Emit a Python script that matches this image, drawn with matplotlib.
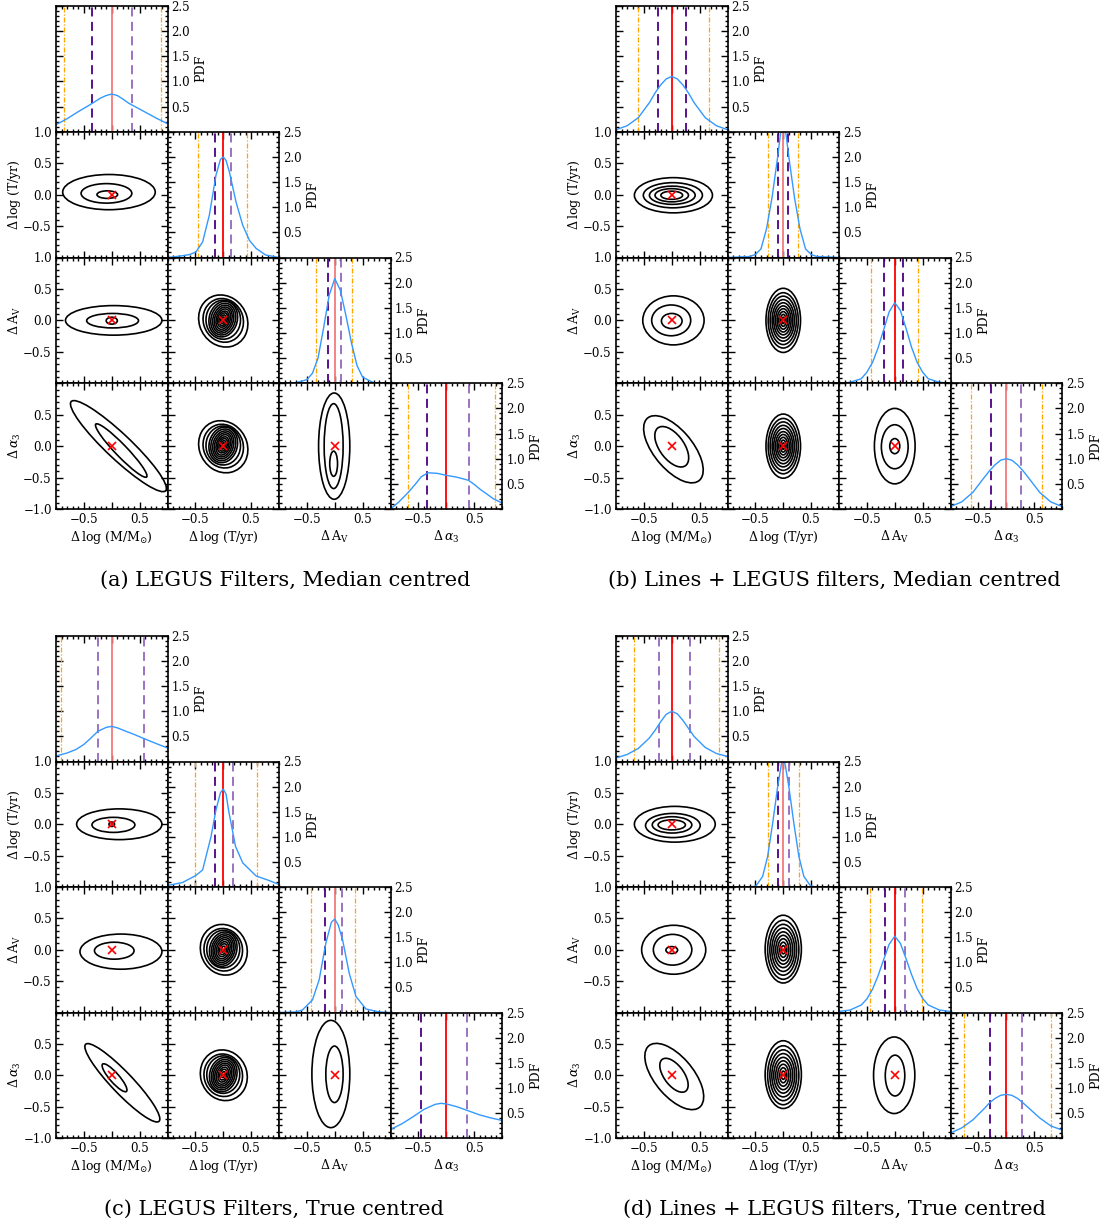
import matplotlib
matplotlib.use('Agg')
import matplotlib.pyplot as plt
from matplotlib.patches import Ellipse
from matplotlib.ticker import MultipleLocator, FixedLocator

plt.rcParams['font.family'] = ['DejaVu Serif']
plt.rcParams['mathtext.fontset'] = 'dejavuserif'

# ---------------- text ----------------
PARAM_LABELS = [r'$\Delta\,\log\,(\mathrm{M/M_{\odot}})$', r'$\Delta\,\log\,(\mathrm{T/yr})$',
                r'$\Delta\,\mathrm{A_V}$', r'$\Delta\,\alpha_3$']
CAPTIONS = ['(a) LEGUS Filters, Median centred',
            '(b) Lines + LEGUS filters, Median centred',
            '(c) LEGUS Filters, True centred',
            '(d) Lines + LEGUS filters, True centred']
PDF_YTICKS = [0.5, 1.0, 1.5, 2.0, 2.5]
XTICKS = [-0.5, 0.0, 0.5]
XTICKLABELS = ['\u22120.5', '', '0.5']
YTICKS_2D = [-1.0, -0.5, 0.0, 0.5, 1.0]
YTICKLABELS_MID = ['', '\u22120.5', '0.0', '0.5', '1.0']
YTICKLABELS_BOT = ['\u22121.0', '\u22120.5', '0.0', '0.5', '']
MARKER_XY = (0.0, 0.0)

# ---------------- (a) LEGUS filters, median centred ----------------
a_pdf_mass_x = [-1.0, -0.8, -0.6, -0.4, -0.3, -0.2, -0.1, 0.0, 0.1, 0.2, 0.3, 0.4, 0.6, 0.8, 1.0]
a_pdf_mass_y = [0.14, 0.26, 0.40, 0.53, 0.60, 0.67, 0.72, 0.75, 0.72, 0.65, 0.57, 0.51, 0.39, 0.27, 0.16]
a_pdf_age_x = [-1.0, -0.76, -0.6, -0.49, -0.37, -0.25, -0.13, -0.05, 0.0, 0.05, 0.11, 0.23, 0.35, 0.47, 0.59, 0.76, 1.0]
a_pdf_age_y = [0.0, 0.03, 0.06, 0.11, 0.31, 0.84, 1.64, 1.95, 2.0, 1.93, 1.70, 1.10, 0.64, 0.34, 0.18, 0.05, 0.0]
a_pdf_av_x = [-1.0, -0.7, -0.5, -0.4, -0.3, -0.2, -0.1, 0.0, 0.1, 0.2, 0.3, 0.4, 0.5, 0.7, 1.0]
a_pdf_av_y = [0.0, 0.01, 0.07, 0.20, 0.50, 1.10, 1.75, 2.08, 1.85, 1.35, 0.80, 0.35, 0.12, 0.01, 0.0]
a_pdf_a3_x = [-1.0, -0.85, -0.69, -0.55, -0.45, -0.33, -0.17, 0.0, 0.2, 0.4, 0.5, 0.61, 0.75, 0.85, 1.0]
a_pdf_a3_y = [0.0, 0.14, 0.32, 0.50, 0.64, 0.72, 0.71, 0.67, 0.63, 0.57, 0.49, 0.39, 0.28, 0.20, 0.12]
a_lines_mass = [-0.85, -0.35, 0.0, 0.37, 0.88]
a_lines_age = [-0.45, -0.14, 0.0, 0.14, 0.42]
a_lines_av = [-0.34, -0.13, 0.0, 0.12, 0.31]
a_lines_a3 = [-0.69, -0.34, 0.0, 0.40, 0.87]
# contours: (cx, cy, width, height, angle)
a_ell_age_mass = [(-0.05, 0.04, 1.66, 0.56, 0), (-0.095, 0.02, 0.91, 0.31, 0), (-0.08, 0.0, 0.37, 0.12, 0)]
a_ell_av_mass = [(0.035, 0.0, 1.73, 0.47, 0), (0.015, -0.005, 0.93, 0.23, 0), (0.0, -0.005, 0.20, 0.11, 0)]
a_ell_a3_mass = [(0.12, 0.0, 2.21, 0.42, -39.7), (0.17, -0.07, 1.24, 0.20, -42.5)]
a_ell_av_age = [(0.0, -0.01, 0.91, 0.80, -30), (0.0, 0.0, 0.74, 0.68, -30), (0.0, 0.01, 0.62, 0.62, -25),
                (0.0, 0.02, 0.50, 0.58, -25), (0.0, 0.02, 0.43, 0.52, -25), (0.0, 0.02, 0.36, 0.46, -25),
                (0.0, 0.02, 0.30, 0.40, -25), (0.0, 0.02, 0.24, 0.34, -25), (0.0, 0.02, 0.19, 0.27, -25),
                (0.0, 0.02, 0.14, 0.21, -25), (0.0, 0.02, 0.09, 0.14, -25), (0.0, 0.02, 0.04, 0.07, -25)]
a_ell_a3_age = a_ell_av_age
a_ell_a3_av = [(-0.01, 0.0, 0.56, 1.69, 0), (-0.02, 0.0, 0.34, 1.35, 0), (-0.02, -0.28, 0.14, 0.40, 0)]

# ---------------- (b) Lines + LEGUS, median centred ----------------
b_pdf_mass_x = [-1.0, -0.8, -0.6, -0.4, -0.3, -0.2, -0.1, 0.0, 0.1, 0.2, 0.3, 0.4, 0.6, 0.8, 1.0]
b_pdf_mass_y = [0.04, 0.12, 0.28, 0.58, 0.77, 0.93, 1.05, 1.10, 1.05, 0.93, 0.77, 0.58, 0.28, 0.12, 0.04]
b_pdf_age_x = [-1.0, -0.6, -0.5, -0.4, -0.3, -0.2, -0.1, -0.05, 0.0, 0.05, 0.1, 0.2, 0.3, 0.4, 0.5, 0.6, 1.0]
b_pdf_age_y = [0.0, 0.02, 0.06, 0.17, 0.57, 1.20, 2.0, 2.45, 2.65, 2.45, 2.0, 1.20, 0.57, 0.17, 0.06, 0.02, 0.0]
b_pdf_av_x = [-1.0, -0.8, -0.6, -0.5, -0.4, -0.3, -0.2, -0.1, 0.0, 0.1, 0.2, 0.3, 0.4, 0.5, 0.6, 0.8, 1.0]
b_pdf_av_y = [0.0, 0.02, 0.09, 0.22, 0.41, 0.70, 1.06, 1.42, 1.60, 1.45, 1.10, 0.72, 0.42, 0.22, 0.09, 0.02, 0.0]
b_pdf_a3_x = [-1.0, -0.8, -0.6, -0.4, -0.3, -0.2, -0.1, 0.0, 0.1, 0.2, 0.3, 0.4, 0.6, 0.8, 1.0]
b_pdf_a3_y = [0.05, 0.14, 0.33, 0.62, 0.76, 0.88, 0.97, 1.0, 0.97, 0.88, 0.76, 0.62, 0.33, 0.14, 0.05]
b_lines_mass = [-0.60, -0.24, 0.0, 0.25, 0.67]
b_lines_age = [-0.27, -0.10, 0.0, 0.09, 0.27]
b_lines_av = [-0.43, -0.19, 0.0, 0.15, 0.41]
b_lines_a3 = [-0.64, -0.27, 0.0, 0.27, 0.65]
b_ell_age_mass = [(0.03, -0.01, 1.40, 0.56, 0), (0.02, -0.01, 1.06, 0.40, 0), (0.01, -0.01, 0.82, 0.29, 0),
                  (0.0, -0.01, 0.60, 0.21, 0), (0.0, -0.01, 0.39, 0.13, 0)]
b_ell_av_mass = [(0.03, 0.0, 1.10, 0.78, 0), (-0.01, 0.0, 0.70, 0.49, 0), (0.0, -0.01, 0.37, 0.24, 0)]
b_ell_a3_mass = [(0.03, -0.05, 1.36, 0.66, -45), (0.0, -0.01, 0.78, 0.42, -48)]
b_ell_av_age = [(0.0, 0.0, 0.62, 1.02, 0), (0.0, 0.0, 0.54, 0.88, 0), (0.0, 0.0, 0.47, 0.77, 0),
                (0.0, 0.0, 0.40, 0.66, 0), (0.0, 0.0, 0.34, 0.56, 0), (0.0, 0.0, 0.28, 0.46, 0),
                (0.0, 0.0, 0.22, 0.37, 0), (0.0, 0.0, 0.16, 0.28, 0), (0.0, 0.0, 0.10, 0.19, 0),
                (0.0, 0.0, 0.05, 0.10, 0)]
b_ell_a3_age = b_ell_av_age
b_ell_a3_av = [(0.0, 0.0, 0.73, 1.20, 0), (0.0, -0.01, 0.48, 0.70, 0), (0.0, 0.0, 0.18, 0.24, 0)]

# ---------------- (c) LEGUS filters, true centred ----------------
c_pdf_mass_x = [-1.0, -0.8, -0.64, -0.5, -0.4, -0.25, -0.1, 0.0, 0.1, 0.26, 0.4, 0.57, 0.79, 1.0]
c_pdf_mass_y = [0.11, 0.17, 0.24, 0.34, 0.44, 0.60, 0.68, 0.70, 0.67, 0.60, 0.54, 0.46, 0.36, 0.27]
c_pdf_age_x = [-1.0, -0.73, -0.49, -0.37, -0.22, -0.13, -0.05, 0.0, 0.05, 0.1, 0.22, 0.35, 0.59, 0.82, 1.0]
c_pdf_age_y = [0.03, 0.09, 0.23, 0.34, 1.0, 1.54, 1.88, 1.95, 1.85, 1.50, 0.81, 0.48, 0.22, 0.13, 0.05]
c_pdf_av_x = [-1.0, -0.7, -0.58, -0.4, -0.28, -0.16, -0.06, 0.0, 0.06, 0.14, 0.26, 0.38, 0.56, 0.8, 1.0]
c_pdf_av_y = [0.0, 0.01, 0.05, 0.25, 0.65, 1.38, 1.80, 1.86, 1.75, 1.45, 0.78, 0.32, 0.07, 0.01, 0.0]
c_pdf_a3_x = [-1.0, -0.8, -0.6, -0.4, -0.2, -0.1, 0.0, 0.2, 0.4, 0.6, 0.8, 1.0]
c_pdf_a3_y = [0.17, 0.28, 0.42, 0.57, 0.67, 0.69, 0.68, 0.62, 0.54, 0.46, 0.40, 0.35]
c_lines_mass = [-0.91, -0.25, 0.0, 0.57, None]
c_lines_age = [-0.51, -0.14, 0.0, 0.17, 0.60]
c_lines_av = [-0.43, -0.18, 0.0, 0.13, 0.37]
c_lines_a3 = [None, -0.46, 0.0, 0.37, None]
c_ell_age_mass = [(0.135, 0.0, 1.53, 0.49, 0), (0.03, -0.01, 0.77, 0.24, 0), (0.0, 0.0, 0.10, 0.07, 0)]
c_ell_av_mass = [(0.165, -0.03, 1.47, 0.56, 0), (0.045, -0.015, 0.71, 0.27, 0)]
c_ell_a3_mass = [(0.19, -0.12, 1.80, 0.36, -42.7), (0.05, -0.04, 0.61, 0.16, -45)]
c_ell_av_age = [(0.01, 0.0, 0.86, 0.79, -30), (0.0, 0.0, 0.70, 0.67, -30), (0.0, 0.01, 0.59, 0.60, -25),
                (0.0, 0.01, 0.48, 0.56, -25), (0.0, 0.01, 0.41, 0.50, -25), (0.0, 0.01, 0.35, 0.44, -25),
                (0.0, 0.01, 0.29, 0.38, -25), (0.0, 0.01, 0.23, 0.32, -25), (0.0, 0.01, 0.17, 0.25, -25),
                (0.0, 0.01, 0.12, 0.18, -25), (0.0, 0.01, 0.06, 0.10, -25)]
c_ell_a3_age = c_ell_av_age
c_ell_a3_av = [(-0.07, 0.02, 0.68, 1.71, 0), (-0.005, 0.015, 0.31, 0.90, 0)]

# ---------------- (d) Lines + LEGUS, true centred ----------------
d_pdf_mass_x = [-1.0, -0.8, -0.6, -0.4, -0.3, -0.2, -0.1, 0.0, 0.1, 0.2, 0.3, 0.4, 0.6, 0.8, 1.0]
d_pdf_mass_y = [0.07, 0.14, 0.26, 0.47, 0.62, 0.79, 0.94, 1.0, 0.95, 0.82, 0.66, 0.50, 0.28, 0.16, 0.10]
d_pdf_age_x = [-1.0, -0.6, -0.49, -0.37, -0.28, -0.19, -0.10, -0.03, 0.0, 0.03, 0.10, 0.19, 0.28, 0.37, 0.49, 0.6, 1.0]
d_pdf_age_y = [0.0, 0.0, 0.02, 0.21, 0.61, 1.27, 2.0, 2.47, 2.55, 2.47, 2.0, 1.27, 0.61, 0.21, 0.02, 0.0, 0.0]
d_pdf_av_x = [-1.0, -0.8, -0.6, -0.5, -0.4, -0.3, -0.2, -0.1, 0.0, 0.1, 0.2, 0.3, 0.4, 0.5, 0.6, 0.8, 1.0]
d_pdf_av_y = [0.02, 0.05, 0.15, 0.27, 0.46, 0.73, 1.05, 1.36, 1.52, 1.38, 1.08, 0.76, 0.48, 0.28, 0.15, 0.05, 0.02]
d_pdf_a3_x = [-1.0, -0.8, -0.6, -0.4, -0.3, -0.2, -0.1, 0.0, 0.1, 0.2, 0.3, 0.4, 0.6, 0.8, 1.0]
d_pdf_a3_y = [0.10, 0.20, 0.36, 0.58, 0.70, 0.79, 0.85, 0.87, 0.85, 0.79, 0.70, 0.60, 0.40, 0.24, 0.16]
d_lines_mass = [-0.67, -0.23, 0.0, 0.33, 0.84]
d_lines_age = [-0.27, -0.10, 0.0, 0.11, 0.29]
d_lines_av = [-0.45, -0.17, 0.0, 0.19, 0.48]
d_lines_a3 = [-0.76, -0.30, 0.0, 0.29, 0.81]
d_ell_age_mass = [(0.055, 0.0, 1.45, 0.57, 0), (0.02, -0.02, 0.98, 0.385, 0), (0.005, -0.01, 0.71, 0.26, 0),
                  (0.0, -0.01, 0.49, 0.16, 0)]
d_ell_av_mass = [(0.035, 0.0, 1.15, 0.78, 0), (0.015, 0.0, 0.69, 0.49, 0), (0.0, -0.005, 0.21, 0.11, 0)]
d_ell_a3_mass = [(0.045, -0.02, 1.34, 0.66, -45), (0.04, 0.0, 0.66, 0.34, -48)]
d_ell_av_age = [(0.0, 0.01, 0.65, 1.08, 0), (0.0, 0.0, 0.56, 0.94, 0), (0.0, 0.0, 0.48, 0.81, 0),
                (0.0, 0.0, 0.41, 0.69, 0), (0.0, 0.0, 0.34, 0.57, 0), (0.0, 0.0, 0.27, 0.46, 0),
                (0.0, 0.0, 0.20, 0.35, 0), (0.0, 0.0, 0.13, 0.24, 0), (0.0, 0.0, 0.07, 0.13, 0)]
d_ell_a3_age = d_ell_av_age
d_ell_a3_av = [(-0.01, 0.0, 0.74, 1.22, 0), (0.005, -0.005, 0.35, 0.65, 0)]

# ---------------- styles ----------------
BLUE = '#3399ff'
ORANGE = '#ffa500'
INDIGO = '#4b0082'
MPURPLE = '#9467bd'
RED = '#ff0000'
SALMON = '#f27a7a'

FW, FH = 1106, 1225
PW = 111.5
ORIGINS = {'a': (56, 6, 125.75), 'b': (616, 6, 125.75), 'c': (56, 636, 125.5), 'd': (616, 636, 125.5)}
CAPTION_POS = {'a': (285, 580), 'b': (834, 580), 'c': (274, 1209), 'd': (834, 1209)}

CORNERS = {
    'a': dict(pdfs=[(a_pdf_mass_x, a_pdf_mass_y), (a_pdf_age_x, a_pdf_age_y), (a_pdf_av_x, a_pdf_av_y), (a_pdf_a3_x, a_pdf_a3_y)],
              lines=[a_lines_mass, a_lines_age, a_lines_av, a_lines_a3],
              colors=[(INDIGO, MPURPLE, SALMON), (INDIGO, MPURPLE, RED), (INDIGO, MPURPLE, SALMON), (INDIGO, MPURPLE, RED)],
              ells={(1, 0): a_ell_age_mass, (2, 0): a_ell_av_mass, (3, 0): a_ell_a3_mass,
                    (2, 1): a_ell_av_age, (3, 1): a_ell_a3_age, (3, 2): a_ell_a3_av}),
    'b': dict(pdfs=[(b_pdf_mass_x, b_pdf_mass_y), (b_pdf_age_x, b_pdf_age_y), (b_pdf_av_x, b_pdf_av_y), (b_pdf_a3_x, b_pdf_a3_y)],
              lines=[b_lines_mass, b_lines_age, b_lines_av, b_lines_a3],
              colors=[(INDIGO, INDIGO, RED), (INDIGO, INDIGO, SALMON), (INDIGO, INDIGO, RED), (INDIGO, MPURPLE, SALMON)],
              ells={(1, 0): b_ell_age_mass, (2, 0): b_ell_av_mass, (3, 0): b_ell_a3_mass,
                    (2, 1): b_ell_av_age, (3, 1): b_ell_a3_age, (3, 2): b_ell_a3_av}),
    'c': dict(pdfs=[(c_pdf_mass_x, c_pdf_mass_y), (c_pdf_age_x, c_pdf_age_y), (c_pdf_av_x, c_pdf_av_y), (c_pdf_a3_x, c_pdf_a3_y)],
              lines=[c_lines_mass, c_lines_age, c_lines_av, c_lines_a3],
              colors=[(MPURPLE, MPURPLE, SALMON), (INDIGO, MPURPLE, RED), (INDIGO, MPURPLE, SALMON), (INDIGO, MPURPLE, RED)],
              ells={(1, 0): c_ell_age_mass, (2, 0): c_ell_av_mass, (3, 0): c_ell_a3_mass,
                    (2, 1): c_ell_av_age, (3, 1): c_ell_a3_age, (3, 2): c_ell_a3_av}),
    'd': dict(pdfs=[(d_pdf_mass_x, d_pdf_mass_y), (d_pdf_age_x, d_pdf_age_y), (d_pdf_av_x, d_pdf_av_y), (d_pdf_a3_x, d_pdf_a3_y)],
              lines=[d_lines_mass, d_lines_age, d_lines_av, d_lines_a3],
              colors=[(MPURPLE, MPURPLE, RED), (INDIGO, MPURPLE, SALMON), (INDIGO, MPURPLE, RED), (INDIGO, MPURPLE, RED)],
              ells={(1, 0): d_ell_age_mass, (2, 0): d_ell_av_mass, (3, 0): d_ell_a3_mass,
                    (2, 1): d_ell_av_age, (3, 1): d_ell_a3_age, (3, 2): d_ell_a3_av}),
}

TICK_FS = 8.5
LABEL_FS = 9

fig = plt.figure(figsize=(FW / 100, FH / 100), dpi=100)


def style_axes(ax):
    ax.set_xlim(-1, 1)
    ax.xaxis.set_major_locator(FixedLocator(XTICKS))
    ax.xaxis.set_minor_locator(MultipleLocator(0.1))
    ax.tick_params(which='both', direction='in', top=True, bottom=True, left=True, right=True,
                   labelsize=TICK_FS, pad=3, colors='k', width=1.0)
    ax.tick_params(which='major', length=5)
    ax.tick_params(which='minor', length=2.5)
    for sp in ax.spines.values():
        sp.set_linewidth(1.2)


for key, cfg in CORNERS.items():
    x0, y0, PH = ORIGINS[key]
    for row in range(4):
        for col in range(row + 1):
            left = (x0 + col * PW) / FW
            bottom = 1 - (y0 + (row + 1) * PH) / FH
            ax = fig.add_axes([left, bottom, PW / FW, PH / FH])
            style_axes(ax)
            if row == col:
                ax.set_ylim(0, 2.5)
                ax.yaxis.set_major_locator(FixedLocator(PDF_YTICKS))
                ax.yaxis.set_minor_locator(MultipleLocator(0.1))
                lines = cfg['lines'][row]
                cl, cr, cm = cfg['colors'][row]
                if lines[0] is not None:
                    ax.axvline(lines[0], color=ORANGE, lw=0.9, ls=(0, (4, 1.5, 1, 1.5)))
                if lines[4] is not None:
                    ax.axvline(lines[4], color=ORANGE, lw=0.9, ls=(0, (4, 1.5, 1, 1.5)))
                ax.axvline(lines[1], color=cl, lw=1.3, ls=(0, (5, 3)))
                ax.axvline(lines[3], color=cr, lw=1.3, ls=(0, (5, 3)))
                ax.axvline(lines[2], color=cm, lw=1.3)
                px, py = cfg['pdfs'][row]
                ax.plot(px, py, color=BLUE, lw=1.0)
                ax.tick_params(axis='y', labelleft=False, labelright=True)
                ax.yaxis.set_label_position('right')
                ax.set_ylabel('PDF', fontsize=LABEL_FS, labelpad=3)
            else:
                ax.set_ylim(-1, 1)
                ax.yaxis.set_major_locator(FixedLocator(YTICKS_2D))
                ax.yaxis.set_minor_locator(MultipleLocator(0.1))
                for (cx, cy, w, h, ang) in cfg['ells'][(row, col)]:
                    ax.add_patch(Ellipse((cx, cy), w, h, angle=ang, fill=False, ec='k', lw=1.2))
                ax.plot([MARKER_XY[0]], [MARKER_XY[1]], 'x', color='red', ms=6, mew=1.2)
                if col == 0:
                    ax.set_yticklabels(YTICKLABELS_BOT if row == 3 else YTICKLABELS_MID)
                    ax.set_ylabel(PARAM_LABELS[row], fontsize=LABEL_FS, labelpad=0)
                else:
                    ax.tick_params(axis='y', labelleft=False)
            if row == 3:
                ax.set_xticklabels(XTICKLABELS)
                ax.set_xlabel(PARAM_LABELS[col], fontsize=LABEL_FS, labelpad=2)
            else:
                ax.tick_params(axis='x', labelbottom=False)
    cx_, cy_ = CAPTION_POS[key]
    fig.text(cx_ / FW, 1 - cy_ / FH, CAPTIONS['abcd'.index(key)], ha='center', va='center', fontsize=15)

fig.savefig('out.png', dpi=100)
